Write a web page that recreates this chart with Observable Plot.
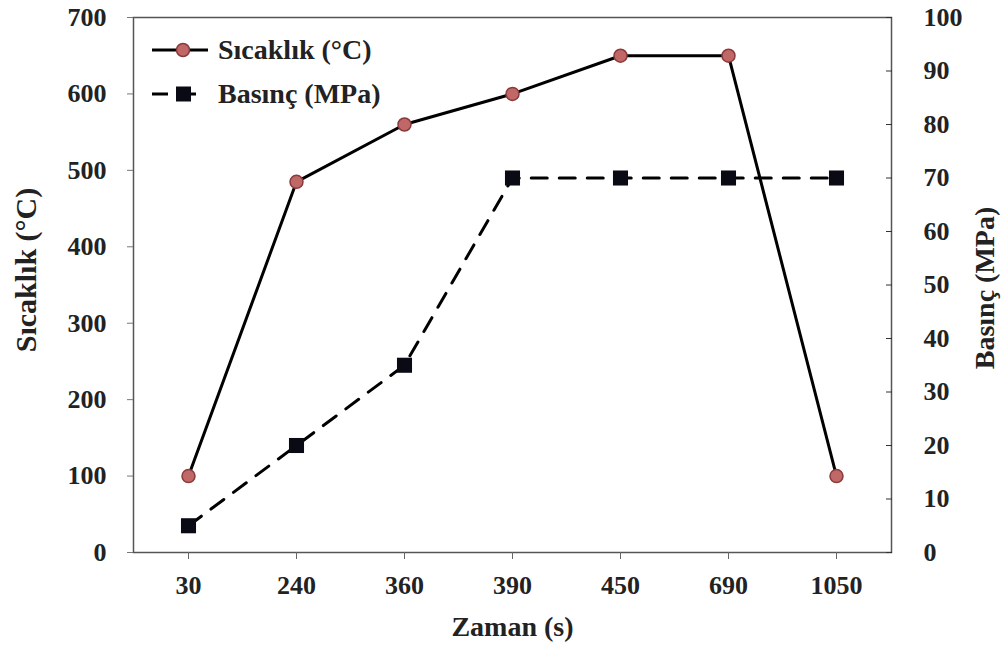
<!DOCTYPE html>
<html>
<head>
<meta charset="utf-8">
<script src="https://cdn.jsdelivr.net/npm/d3@7"></script>
<script src="https://cdn.jsdelivr.net/npm/@observablehq/plot@0.6"></script>
<style>
  html, body { margin: 0; padding: 0; background: #fff; }
  #wrap { position: relative; width: 1005px; height: 649px; }
  #legend { position: absolute; left: 150px; top: 28px; font-family: "Liberation Serif", "Times New Roman", serif; font-weight: bold; font-size: 28px; color: #222; }
  #legend .row { display: flex; align-items: center; height: 44px; }
  #legend svg { margin-right: 8px; }
</style>
</head>
<body>
<div id="wrap">
  <div id="chart"></div>
  <div id="legend"></div>
</div>
<script>
const times = ["30", "240", "360", "390", "450", "690", "1050"];
const temperature = [100, 485, 560, 600, 650, 650, 100];
const pressure = [5, 20, 35, 70, 70, 70, 70];
const tempTicks = [0, 100, 200, 300, 400, 500, 600, 700];
const pressTicks = [0, 10, 20, 30, 40, 50, 60, 70, 80, 90, 100];

const seriesNames = ["Sıcaklık (°C)", "Basınç (MPa)"];
const xLabel = "Zaman (s)";

const k = 7; // 700 / 100
const tempData = times.map((t, i) => ({t, v: temperature[i]}));
const pressData = times.map((t, i) => ({t, v: pressure[i] * k}));

const font = "Liberation Serif, Times New Roman, serif";

const chart = Plot.plot({
  width: 1005,
  height: 649,
  marginTop: 17,
  marginRight: 114,
  marginBottom: 97,
  marginLeft: 133,
  style: {fontFamily: font, fontWeight: "bold", fontSize: "26px", color: "#222", background: "#fff"},
  x: {type: "point", domain: times, padding: 0.5},
  y: {domain: [0, 700]},
  marks: [
    Plot.frame({stroke: "#555", strokeWidth: 1.5}),
    Plot.axisY({anchor: "left", ticks: tempTicks, tickSize: 6, tickPadding: 21, stroke: "#777", fontSize: 26, label: null}),
    Plot.axisY({anchor: "right", ticks: pressTicks.map(d => d * k), tickFormat: d => d / k, tickSize: -6, tickPadding: 38, stroke: "#333", fontSize: 26, label: null}),
    Plot.axisX({anchor: "bottom", tickSize: 7, tickPadding: 16, stroke: "#666", fontSize: 26, label: null}),
    Plot.text([xLabel], {frameAnchor: "bottom", dy: 83, fontSize: 28, fontWeight: "bold", fill: "#222"}),
    Plot.text([seriesNames[0]], {frameAnchor: "left", textAnchor: "middle", dx: -107, dy: -15, rotate: -90, fontSize: 30, fontWeight: "bold", fill: "#222"}),
    Plot.text([seriesNames[1]], {frameAnchor: "right", textAnchor: "middle", dx: 94, dy: 3, rotate: -90, fontSize: 28, fontWeight: "bold", fill: "#222"}),
    Plot.lineY(pressData, {x: "t", y: "v", stroke: "#000", strokeWidth: 3, strokeDasharray: "16,12"}),
    Plot.dot(pressData, {x: "t", y: "v", symbol: "square", r: 8.5, fill: "#0a0a14", stroke: "none"}),
    Plot.lineY(tempData, {x: "t", y: "v", stroke: "#000", strokeWidth: 3}),
    Plot.dot(tempData, {x: "t", y: "v", r: 6.5, fill: "#c06868", stroke: "#8a3a3a", strokeWidth: 1.5})
  ]
});
document.getElementById("chart").appendChild(chart);

// legend
const legend = document.getElementById("legend");
const sym = [
  `<svg width="60" height="20"><line x1="2" y1="10" x2="58" y2="10" stroke="#000" stroke-width="3"/><circle cx="33" cy="10" r="6.5" fill="#c06868" stroke="#8a3a3a" stroke-width="1.5"/></svg>`,
  `<svg width="60" height="20"><line x1="2" y1="10" x2="58" y2="10" stroke="#000" stroke-width="3" stroke-dasharray="16,12"/><rect x="26" y="2.5" width="15" height="15" fill="#0a0a14"/></svg>`
];
seriesNames.forEach((name, i) => {
  const row = document.createElement("div");
  row.className = "row";
  row.innerHTML = sym[i] + `<span>${name}</span>`;
  legend.appendChild(row);
});
</script>
</body>
</html>
